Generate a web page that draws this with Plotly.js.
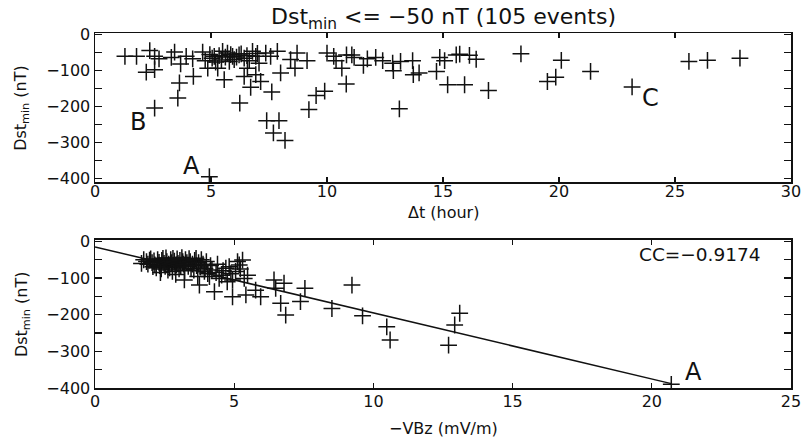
<!DOCTYPE html>
<html>
<head>
<meta charset="utf-8">
<script src="https://cdn.plot.ly/plotly-3.0.1.min.js"></script>
<style>html,body{margin:0;padding:0;background:#fff;}#chart{width:802px;height:441px;}</style>
</head>
<body>
<div id="chart"></div>
<script>
// ---- Top panel: Δt (hour) vs Dst_min (nT)
const topDt = [1.29,1.79,2.36,2.57,2.76,2.21,2.57,3.64,3.57,2.57,3.29,3.43,3.69,3.93,4.21,4.24,4.64,4.86,4.93,5.14,
  5.29,5.50,5.71,5.93,6.00,5.79,6.21,6.43,6.57,6.79,6.93,7.07,5.57,6.43,6.93,7.14,6.71,6.24,7.36,7.57,
  7.86,8.00,7.62,7.40,7.93,7.69,8.19,8.43,8.71,8.62,9.14,9.22,9.53,9.90,10.00,10.29,10.39,10.64,10.83,10.84,
  11.07,11.17,11.57,11.74,12.10,12.40,12.83,12.86,13.17,13.69,13.72,13.97,13.12,14.72,14.86,15.07,15.20,15.57,15.72,15.93,
  16.14,16.43,16.96,18.36,20.10,19.50,19.86,21.36,23.15,25.60,26.40,27.80,
  4.95,5.05,5.35,5.45,5.62,5.85,6.10,6.30,6.55,6.65,7.00,4.75,5.20];
const topDst = [-60,-60,-44,-60,-67,-104,-97,-134,-176,-204,-63,-48,-81,-60,-67,-116,-48,-93,-395,-60,
  -93,-46,-51,-60,-69,-74,-56,-65,-93,-46,-60,-79,-125,-116,-111,-130,-146,-190,-51,-60,
  -46,-106,-159,-239,-239,-273,-294,-69,-51,-93,-72,-208,-169,-157,-51,-60,-72,-93,-137,-56,
  -56,-63,-85,-67,-63,-72,-79,-100,-74,-72,-111,-106,-206,-102,-63,-72,-139,-56,-54,-139,
  -57,-68,-155,-53,-71,-130,-118,-102,-145,-74,-71,-65,
  -55,-65,-58,-70,-62,-55,-62,-53,-58,-72,-52,-72,-76];

// ---- Bottom panel: -VBz (mV/m) vs Dst_min (nT)
const botVBz = [1.67,1.96,2.08,2.44,2.62,2.80,2.92,3.15,3.21,3.45,3.63,3.69,3.75,3.93,4.11,4.29,4.46,4.82,4.94,5.12,
  5.30,4.70,4.94,5.36,5.48,5.42,5.77,5.95,6.43,6.49,6.67,6.85,6.79,5.18,
  7.54,7.38,8.51,9.23,9.61,10.48,10.60,12.70,12.92,13.10,20.70,
  1.85,1.90,2.00,2.05,2.12,2.15,2.20,2.25,2.30,2.32,2.38,2.40,2.48,2.52,2.55,2.58,2.65,2.68,2.72,2.75,
  2.78,2.85,2.88,2.95,2.98,3.02,3.05,3.08,3.12,3.18,3.22,3.25,3.30,3.35,3.38,3.42,3.50,3.55,3.58,3.65,
  3.72,3.78,3.82,3.88,3.95,4.00,4.05,4.15,4.20,4.35,4.40,4.55,4.60,4.75,4.88,5.05,5.22,1.75,2.35,2.90];
const botDst = [-60,-51,-69,-46,-78,-46,-64,-55,-105,-73,-46,-96,-119,-82,-96,-137,-101,-69,-151,-55,
  -51,-73,-105,-101,-92,-146,-133,-151,-105,-128,-169,-201,-114,-64,
  -128,-164,-183,-119,-203,-233,-269,-283,-228,-196,-390,
  -55,-62,-48,-58,-53,-64,-72,-50,-57,-66,-75,-52,-60,-68,-45,-55,-62,-72,-50,-58,
  -82,-54,-70,-48,-60,-75,-52,-66,-44,-62,-80,-50,-58,-68,-47,-55,-62,-78,-52,-66,
  -58,-70,-50,-62,-74,-55,-88,-66,-78,-85,-62,-92,-80,-110,-88,-82,-75,-50,-85,-90];

// Regression line end points
const fitX = [0, 20.7];
const fitY = [-15, -388];

const yTicks = [0, -100, -200, -300, -400];
const yTickText = ['0', '−100', '−200', '−300', '−400'];

const FONT = 'DejaVu Sans, Liberation Sans, sans-serif';
const mk = {symbol: 'cross-thin-open', size: 12, color: '#111', line: {width: 1.5, color: '#111'}};

const traces = [
  {x: topDt, y: topDst, type: 'scatter', mode: 'markers', marker: mk, xaxis: 'x', yaxis: 'y', hoverinfo: 'skip'},
  {x: botVBz, y: botDst, type: 'scatter', mode: 'markers', marker: mk, xaxis: 'x2', yaxis: 'y2', hoverinfo: 'skip'},
  {x: fitX, y: fitY, type: 'scatter', mode: 'lines', line: {color: '#111', width: 1.5}, xaxis: 'x2', yaxis: 'y2', hoverinfo: 'skip'}
];

const axBase = {
  showline: true, linecolor: '#111', linewidth: 1.5, mirror: 'ticks',
  ticks: 'inside', tickcolor: '#111', tickwidth: 1.2,
  showgrid: false, zeroline: false, ticklabeloverflow: 'allow',
  tickfont: {family: FONT, size: 16, color: '#111'}
};
const yBase = Object.assign({}, axBase, {
  tickvals: yTicks, ticktext: yTickText, ticklen: 7,
  minor: {dtick: 50, tick0: 0, ticks: 'inside', ticklen: 7, tickcolor: '#111', tickwidth: 1.2, showgrid: false}
});

const TF = {family: FONT, size: 16, color: '#111'};
const LF = {family: FONT, size: 24, color: '#111'};

const layout = {
  width: 802, height: 441,
  paper_bgcolor: '#fff', plot_bgcolor: '#fff',
  showlegend: false,
  margin: {l: 95, r: 11, t: 33, b: 53},
  font: {family: FONT, color: '#111'},
  title: {text: 'Dst<sub>min</sub> &lt;= −50 nT (105 events)', x: 0.553, xanchor: 'center', y: 0.962, yanchor: 'middle',
          font: {family: FONT, size: 22, color: '#111'}},
  xaxis: Object.assign({}, axBase, {domain: [0, 1], anchor: 'y', range: [0, 30], dtick: 5, tick0: 0, ticklen: 5, ticklabelstandoff: -6}),
  yaxis: Object.assign({}, yBase, {domain: [0.58, 1], anchor: 'x', range: [-410, 5]}),
  xaxis2: Object.assign({}, axBase, {domain: [0, 1], anchor: 'y2', range: [0, 25], dtick: 5, tick0: 0, ticklen: 5, ticklabelstandoff: -2}),
  yaxis2: Object.assign({}, yBase, {domain: [0, 0.417], anchor: 'x2', range: [-400, 4]}),
  annotations: [
    // axis titles
    {xref: 'paper', yref: 'paper', x: 0.5, y: 0.494, yanchor: 'middle', text: 'Δt (hour)', showarrow: false, font: TF},
    {xref: 'paper', yref: 'paper', x: 0.5, y: -0.113, yanchor: 'middle', text: '−VBz (mV/m)', showarrow: false, font: TF},
    {xref: 'paper', yref: 'paper', x: -0.105, y: 0.789, xanchor: 'center', yanchor: 'middle', textangle: -90, text: 'Dst<sub>min</sub> (nT)', showarrow: false, font: TF},
    {xref: 'paper', yref: 'paper', x: -0.105, y: 0.208, xanchor: 'center', yanchor: 'middle', textangle: -90, text: 'Dst<sub>min</sub> (nT)', showarrow: false, font: TF},
    // labels
    {xref: 'x', yref: 'y', x: 4.16, y: -364, text: 'A', showarrow: false, font: LF},
    {xref: 'x', yref: 'y', x: 1.84, y: -242, text: 'B', showarrow: false, font: LF},
    {xref: 'x', yref: 'y', x: 23.96, y: -176, text: 'C', showarrow: false, font: LF},
    {xref: 'x2', yref: 'y2', x: 21.5, y: -357, text: 'A', showarrow: false, font: LF},
    {xref: 'x2', yref: 'y2', x: 24.0, y: -37, xanchor: 'right', text: 'CC=−0.9174', showarrow: false, font: {family: FONT, size: 18.5, color: '#111'}}
  ]
};

Plotly.newPlot('chart', traces, layout, {staticPlot: true, displayModeBar: false});
</script>
</body>
</html>
